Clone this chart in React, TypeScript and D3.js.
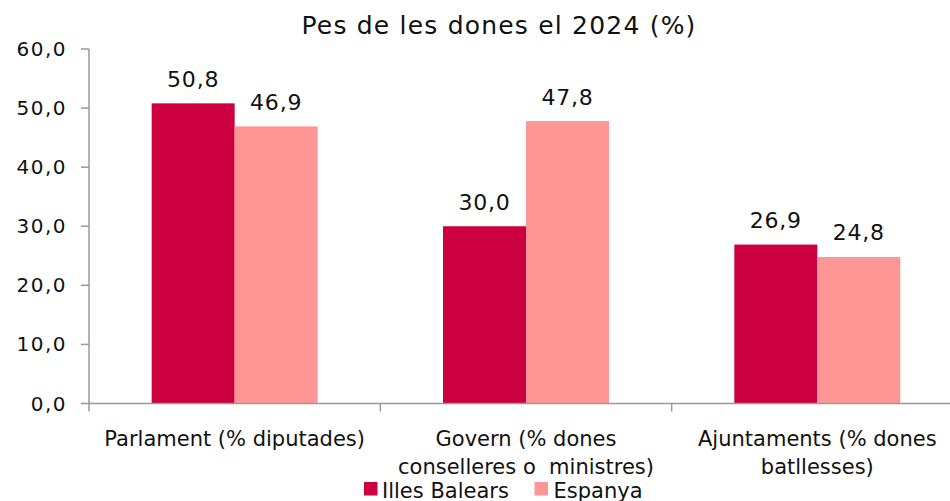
import React from "react";
import * as d3 from "d3";

const categories: string[][] = [
  ["Parlament (% diputades)"],
  ["Govern (% dones", "conselleres o  ministres)"],
  ["Ajuntaments (% dones", "batllesses)"],
];
const seriesNames = ["Illes Balears", "Espanya"];
const illesBalears = [50.8, 30.0, 26.9];
const espanya = [46.9, 47.8, 24.8];
const yTicks = [0, 10, 20, 30, 40, 50, 60];
const title = "Pes de les dones el 2024 (%)";

const colors = ["#CC0040", "#FF9696"];
const FONT = "'DejaVu Sans', 'Noto Sans', sans-serif";

export default function App() {
  const W = 950, H = 501;
  const x0 = 89, x1 = 963;
  const y = d3.scaleLinear().domain([0, 60]).range([403.5, 49]);
  const xBand = d3.scaleBand<number>().domain([0, 1, 2]).range([x0, x1]).paddingInner(0).paddingOuter(0);
  const bw = xBand.bandwidth();
  const barW = 83;
  const series = [illesBalears, espanya];
  const fmt = (v: number) => v.toFixed(1).replace(".", ",");
  return (
    <svg width={W} height={H} style={{ position: "absolute", left: 0, top: 0, background: "#fff" }} fontFamily={FONT}>
      <text x={499} y={34} textAnchor="middle" fontSize={25} letterSpacing={1.2} fill="#111">{title}</text>
      {/* y axis */}
      <line x1={x0} x2={x0} y1={y(60)} y2={y(0)} stroke="#999" strokeWidth={1.5} />
      {yTicks.map((t) => (
        <g key={t}>
          <line x1={x0 - 8} x2={x0} y1={y(t)} y2={y(t)} stroke="#999" strokeWidth={1.5} />
          <text x={67} y={y(t) + 7} textAnchor="end" fontSize={20} letterSpacing={1.5} fill="#111">{fmt(t)}</text>
        </g>
      ))}
      {/* bars */}
      {categories.map((_, i) => {
        const c = (xBand(i) as number) + bw / 2;
        return series.map((s, j) => {
          const bx = c - barW + j * barW;
          return (
            <g key={`${i}-${j}`}>
              <rect x={bx} y={y(s[i])} width={barW} height={y(0) - y(s[i])} fill={colors[j]} />
              <text x={bx + barW / 2} y={y(s[i]) - 16.5} textAnchor="middle" fontSize={22} letterSpacing={0.8} fill="#111">{fmt(s[i])}</text>
            </g>
          );
        });
      })}
      {/* x axis */}
      <line x1={x0} x2={x1} y1={y(0)} y2={y(0)} stroke="#999" strokeWidth={1.5} />
      {[0, 1, 2, 3].map((i) => {
        const tx = x0 + i * bw;
        return <line key={i} x1={tx} x2={tx} y1={y(0)} y2={y(0) + 8} stroke="#999" strokeWidth={1.5} />;
      })}
      {categories.map((lines, i) => {
        const c = (xBand(i) as number) + bw / 2;
        return (
          <text key={i} textAnchor="middle" fontSize={21} fill="#111" style={{ whiteSpace: "pre" }}>
            {lines.map((l, k) => (
              <tspan key={k} x={c} y={446 + k * 28}>{l}</tspan>
            ))}
          </text>
        );
      })}
      {/* legend */}
      <rect x={364} y={482} width={13.5} height={13.5} fill={colors[0]} />
      <text x={382} y={498} fontSize={21} fill="#111">{seriesNames[0]}</text>
      <rect x={534.5} y={482} width={13.5} height={13.5} fill={colors[1]} />
      <text x={553.5} y={498} fontSize={21} fill="#111">{seriesNames[1]}</text>
    </svg>
  );
}
